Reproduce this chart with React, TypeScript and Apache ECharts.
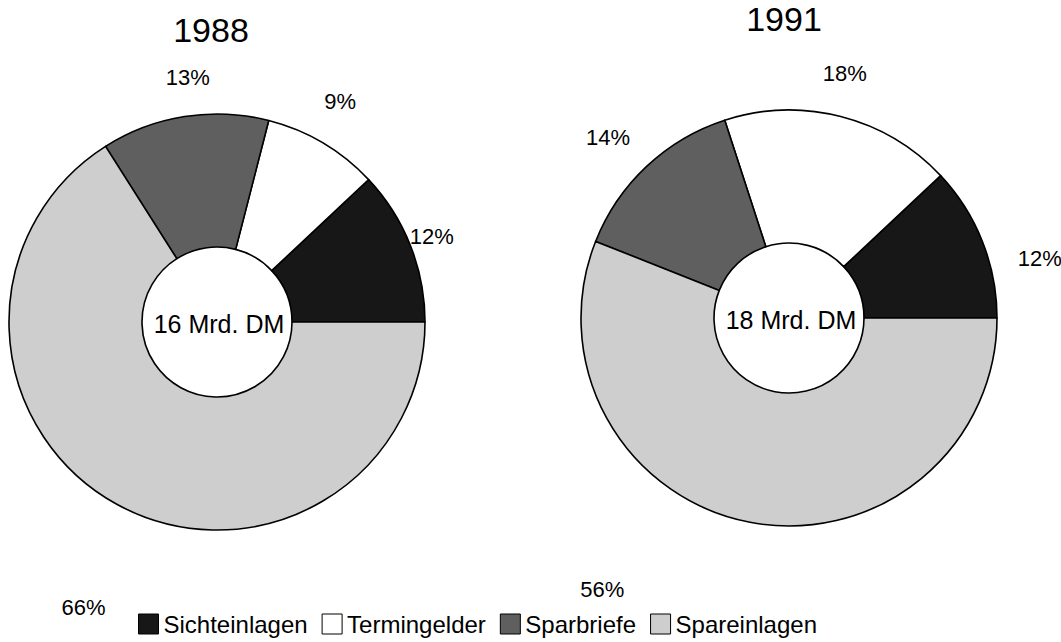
import React, { useEffect, useRef } from 'react';
import * as echarts from 'echarts';

const categories = ['Sichteinlagen', 'Termingelder', 'Sparbriefe', 'Spareinlagen'];
const years = ['1988', '1991'];
const values1988 = [12, 9, 13, 66];
const values1991 = [12, 18, 14, 56];
const totals = ['16 Mrd. DM', '18 Mrd. DM'];

const colors = ['#171717', '#ffffff', '#5f5f5f', '#cecece'];
const fontFamily = '"Liberation Sans", Arial, Helvetica, sans-serif';

// layout: pie centers and label nudges (pixels)
const centers = [[217, 322], [789, 318]];
const labelNudges = [
  [[-12, 4], [-1, -10], [9, -4], [-16, 72]],
  [[24, 30], [-5, -8], [-14, -3], [-141, 32]],
];

export default function App() {
  const ref = useRef<HTMLDivElement>(null);
  useEffect(() => {
    document.body.style.margin = '0';
    const chart = echarts.init(ref.current as HTMLDivElement, null, { renderer: 'svg' });
    const seriesValues = [values1988, values1991];
    const series = seriesValues.map((values, i) => ({
      type: 'pie',
      name: years[i],
      center: centers[i],
      radius: [75, 208],
      startAngle: 0,
      clockwise: false,
      avoidLabelOverlap: false,
      itemStyle: { borderColor: '#000', borderWidth: 1.6 },
      label: {
        show: true,
        position: 'outside',
        formatter: '{c}%',
        fontSize: 22,
        color: '#000',
        fontFamily,
        distanceToLabelLine: 0,
      },
      labelLine: { show: false, length: 36, length2: 0 },
      labelLayout: (p: any) => ({
        align: 'center',
        verticalAlign: 'middle',
        dx: labelNudges[i][p.dataIndex][0],
        dy: labelNudges[i][p.dataIndex][1],
      }),
      emphasis: { disabled: true },
      data: categories.map((name, k) => ({
        name,
        value: values[k],
        itemStyle: { color: colors[k] },
      })),
    }));

    const textEl = (text: string, x: number, y: number, size: number) => ({
      type: 'text',
      x,
      y,
      silent: true,
      style: {
        text,
        fill: '#000',
        font: `${size}px ${fontFamily}`,
        fontSize: size,
        fontFamily,
        align: 'center',
        verticalAlign: 'middle',
        textAlign: 'center',
        textVerticalAlign: 'middle',
      },
    });

    chart.setOption({
      animation: false,
      backgroundColor: '#fff',
      legend: {
        data: categories,
        left: 133,
        top: 607,
        icon: 'rect',
        itemWidth: 20,
        itemHeight: 20,
        itemGap: 14,
        selectedMode: false,
        itemStyle: { borderColor: '#000', borderWidth: 1 },
        textStyle: { fontSize: 24, color: '#000', fontFamily },
      },
      graphic: [
        textEl(years[0], 211, 30, 34),
        textEl(years[1], 784, 19, 34),
        textEl(totals[0], 219, 324, 25),
        textEl(totals[1], 791, 320, 25),
      ],
      series,
    });
    return () => chart.dispose();
  }, []);
  return <div ref={ref} style={{ width: 1061, height: 642 }} />;
}
